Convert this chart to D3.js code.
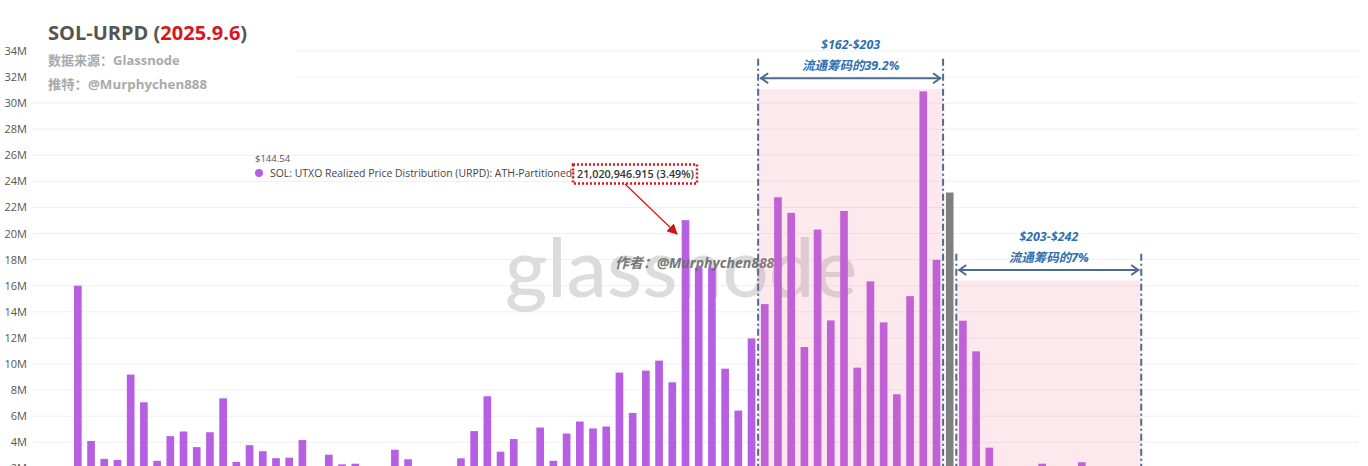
<!DOCTYPE html>
<html>
<head>
<meta charset="utf-8">
<script src="https://cdn.jsdelivr.net/npm/d3@7/dist/d3.min.js"></script>
<style>
  html, body { margin: 0; padding: 0; background: #ffffff; overflow: hidden; }
  svg { display: block; font-family: "Open Sans", "Noto Sans", "Noto Sans CJK SC", sans-serif; }
</style>
</head>
<body>
<svg id="chart" width="1368" height="466"></svg>
<script>
// ---- data ----
// lower bound (USD) of each ATH-partitioned URPD bucket
const bucketPrices = [0,3,6,9,12,15,18,21,23,26,29,32,35,38,41,44,47,50,53,56,
  59,62,65,67,70,73,76,79,82,85,88,91,94,97,100,103,106,109,111,114,
  117,120,123,126,129,132,135,138,141,144,147,150,153,155,158,161,164,167,170,173,
  176,179,182,185,188,191,194,197,199,202,205,208,211,214,217,220,223,226,229,232,
  235,238,241,243,246,249,252,255,258,261,264,267,270,273,276,279,282,285,287,290];
// supply per bucket, millions of SOL
const supplyM = [0.9,1.3,1.6,16.0,4.1,2.73,2.65,9.19,7.07,2.58,
  4.47,4.83,3.63,4.77,7.37,2.5,3.78,3.32,2.78,2.82,
  4.17,1.9,3.05,2.31,2.36,1.8,1.95,3.43,2.70,1.7,
  1.5,1.9,2.77,4.86,7.53,3.28,4.25,2.0,5.13,2.58,
  4.67,5.59,5.06,5.21,9.34,6.25,9.49,10.26,8.6,21.02,
  17.37,17.37,9.64,6.43,11.96,14.59,22.78,21.58,11.3,20.3,
  13.34,21.73,9.72,16.33,13.19,7.68,15.2,30.89,17.98,23.14,
  13.32,10.97,3.59,1.6,1.4,1.9,2.36,1.5,1.2,2.47,
  1.1,0.9,1.0,0.8,0.7,0.6,0.5,0.6,0.4,0.5,
  0.3,0.4,0.3,0.2,0.3,0.2,0.2,0.1,0.1,0.1];
const currentBucketPrice = 202;   // bucket holding the current price (grey)
const yTicks = [2,4,6,8,10,12,14,16,18,20,22,24,26,28,30,32,34];
// annotated ranges
const ranges = [
  { from: 161, to: 202, top: 31.07, lineTop: 33.4, arrowY: 31.9, t1: "$162-$203", t2: "流通筹码的39.2%" },
  { from: 205, to: 246, top: 16.4, lineTop: 18.45, arrowY: 17.2, t1: "$203-$242", t2: "流通筹码的7%" }
];

// ---- scales ----
const svg = d3.select("#chart");
const x = d3.scaleBand().domain(bucketPrices).range([31.6, 1352.6]).paddingInner(0.42).paddingOuter(0.21);
const y = d3.scaleLinear().domain([0, 34]).range([494.5, 50.8]);
const gapHalf = x.step() * x.paddingInner() / 2;
const edge = p => x(p) - gapHalf;

// gridlines
svg.append("g").selectAll("line").data(yTicks).join("line")
  .attr("x1", 32).attr("x2", 1358)
  .attr("y1", d => y(d)).attr("y2", d => y(d))
  .attr("stroke", "#efefef").attr("stroke-width", 1);

// y axis labels
const yAxis = d3.axisLeft(y).tickValues(yTicks).tickFormat(d => d + "M").tickSize(0).tickPadding(0);
const ga = svg.append("g").attr("transform", "translate(27,0)").call(yAxis);
ga.select(".domain").remove();
ga.selectAll("text").attr("font-size", 11).attr("fill", "#555").attr("font-family", "Open Sans, sans-serif");

// title box
svg.append("rect").attr("x", 32).attr("y", 14).attr("width", 264).attr("height", 84).attr("fill", "#fff");
const title = svg.append("text").attr("x", 48).attr("y", 40).attr("font-size", 20).attr("font-weight", 700)
  .attr("font-family", "Open Sans, sans-serif").attr("fill", "#555");
title.append("tspan").text("SOL-URPD (");
title.append("tspan").attr("fill", "#d7161d").text("2025.9.6");
title.append("tspan").text(")");
svg.append("text").attr("x", 48).attr("y", 65).attr("font-size", 13).attr("font-weight", 700)
  .attr("fill", "#aaaaaa").attr("font-family", "Open Sans, Noto Sans CJK SC, sans-serif").text("数据来源：Glassnode");
svg.append("text").attr("x", 48).attr("y", 89).attr("font-size", 13).attr("font-weight", 700)
  .attr("fill", "#aaaaaa").attr("font-family", "Open Sans, Noto Sans CJK SC, sans-serif")
  .attr("textLength", 159).attr("lengthAdjust", "spacingAndGlyphs").text("推特：@Murphychen888");

// glassnode watermark
svg.append("text").attr("x", 505).attr("y", 297).attr("font-size", 82).attr("font-weight", 500)
  .attr("font-family", "Lato, Roboto, sans-serif").attr("fill", "#d9d9d9").attr("opacity", 0.9)
  .attr("textLength", 352).attr("lengthAdjust", "spacingAndGlyphs").text("glassnode");

// bars
const data = bucketPrices.map((p, i) => ({ p, v: supplyM[i] }));
svg.append("g").selectAll("rect").data(data).join("rect")
  .attr("x", d => x(d.p)).attr("width", x.bandwidth())
  .attr("y", d => y(d.v)).attr("height", d => y(0) - y(d.v))
  .attr("fill", d => d.p === currentBucketPrice ? "#808080" : "#b75fe3");

// author watermark
svg.append("text").attr("x", 615).attr("y", 268).attr("font-size", 14).attr("font-weight", 700)
  .attr("font-style", "italic").attr("fill", "#6a6a6a").attr("opacity", 0.9)
  .attr("font-family", "Open Sans, Noto Sans CJK SC, sans-serif").text("作者：@Murphychen888");

// range annotations
const blue = "#4e6b91";
ranges.forEach(r => {
  const x0 = edge(r.from), x1 = edge(r.to);
  svg.append("rect").attr("x", x0).attr("y", y(r.top)).attr("width", x1 - x0).attr("height", y(0) - y(r.top))
    .attr("fill", "rgb(245,120,140)").attr("opacity", 0.16);
  [x0, x1].forEach(xx => svg.append("line").attr("x1", xx).attr("x2", xx)
    .attr("y1", y(r.lineTop)).attr("y2", 470).attr("stroke", blue).attr("stroke-width", 2)
    .attr("stroke-dasharray", "7,3,2,3"));
  const ay = y(r.arrowY);
  svg.append("line").attr("x1", x0 + 2).attr("x2", x1 - 2).attr("y1", ay).attr("y2", ay)
    .attr("stroke", blue).attr("stroke-width", 2);
  svg.append("path").attr("d", `M${x0 + 10},${ay - 5} L${x0 + 3},${ay} L${x0 + 10},${ay + 5}`)
    .attr("fill", "none").attr("stroke", blue).attr("stroke-width", 2);
  svg.append("path").attr("d", `M${x1 - 10},${ay - 5} L${x1 - 3},${ay} L${x1 - 10},${ay + 5}`)
    .attr("fill", "none").attr("stroke", blue).attr("stroke-width", 2);
  const cx = (x0 + x1) / 2;
  svg.append("text").attr("x", cx).attr("y", ay - 29).attr("text-anchor", "middle")
    .attr("font-size", 12.5).attr("font-weight", 700).attr("font-style", "italic").attr("fill", "#2e6fae")
    .attr("font-family", "Open Sans, sans-serif").text(r.t1);
  svg.append("text").attr("x", cx).attr("y", ay - 8).attr("text-anchor", "middle")
    .attr("font-size", 12.5).attr("font-weight", 700).attr("font-style", "italic").attr("fill", "#2e6fae")
    .attr("font-family", "Open Sans, Noto Sans CJK SC, sans-serif").text(r.t2);
});

// tooltip
const tipPrice = "$144.54";
const tipLabel = "SOL: UTXO Realized Price Distribution (URPD): ATH-Partitioned:";
const tipValue = "21,020,946.915 (3.49%)";
svg.append("text").attr("x", 255).attr("y", 162).attr("font-size", 9.5).attr("fill", "#555")
  .attr("font-family", "Open Sans, sans-serif").text(tipPrice);
svg.append("circle").attr("cx", 259).attr("cy", 173).attr("r", 4).attr("fill", "#b75fe3");
svg.append("text").attr("x", 270).attr("y", 177).attr("font-size", 10).attr("fill", "#444")
  .attr("font-family", "Open Sans, sans-serif").attr("textLength", 305).attr("lengthAdjust", "spacingAndGlyphs")
  .text(tipLabel);
svg.append("text").attr("x", 577).attr("y", 177.5).attr("font-size", 10.5).attr("font-weight", 600).attr("fill", "#333")
  .attr("font-family", "Open Sans, sans-serif").attr("textLength", 117).attr("lengthAdjust", "spacingAndGlyphs")
  .text(tipValue);
svg.append("rect").attr("x", 573).attr("y", 164.5).attr("width", 124).attr("height", 19)
  .attr("fill", "none").attr("stroke", "#e0141c").attr("stroke-width", 2.5).attr("stroke-dasharray", "2,2");
svg.append("defs").append("marker").attr("id", "ah").attr("viewBox", "0 0 10 10").attr("refX", 9).attr("refY", 5)
  .attr("markerWidth", 9).attr("markerHeight", 9).attr("orient", "auto")
  .append("path").attr("d", "M0,0 L10,5 L0,10 z").attr("fill", "#d4141c");
svg.append("line").attr("x1", 625).attr("y1", 184).attr("x2", 677).attr("y2", 234)
  .attr("stroke", "#d4141c").attr("stroke-width", 1.2).attr("marker-end", "url(#ah)");
</script>
</body>
</html>
